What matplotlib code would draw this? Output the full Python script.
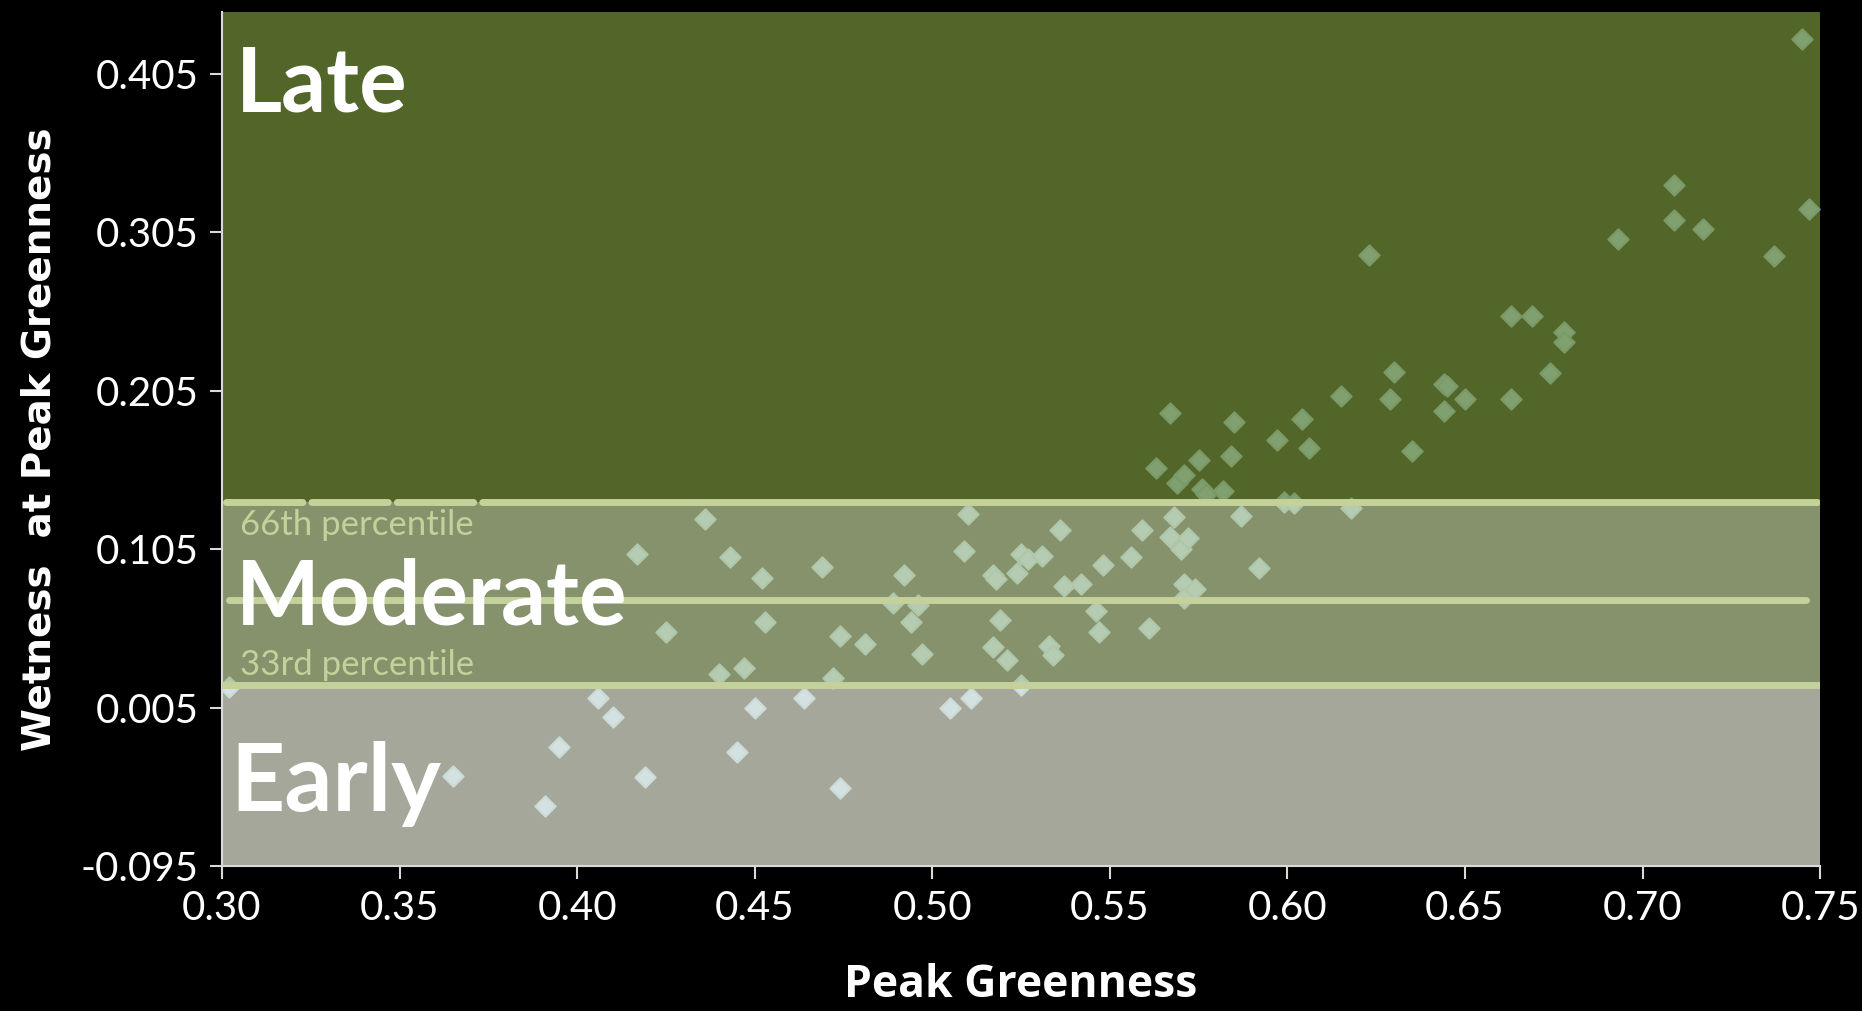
import matplotlib.pyplot as plt
from matplotlib.path import Path
import numpy as np

# peak greenness (x) and wetness at peak greenness (y)
greenness = [0.302, 0.365, 0.391, 0.395, 0.406, 0.410, 0.417, 0.419, 0.425, 0.436,
             0.440, 0.443, 0.445, 0.447, 0.450, 0.452, 0.453, 0.464, 0.469, 0.472,
             0.474, 0.474, 0.481, 0.489, 0.492, 0.494, 0.496, 0.497, 0.505, 0.509,
             0.510, 0.511, 0.517, 0.518, 0.519, 0.517, 0.521, 0.524, 0.525, 0.525,
             0.527, 0.531, 0.533, 0.534, 0.536, 0.537, 0.542, 0.546, 0.547, 0.548,
             0.556, 0.559, 0.561, 0.563, 0.567, 0.568, 0.567, 0.569, 0.570, 0.571,
             0.571, 0.572, 0.571, 0.574, 0.575, 0.576, 0.577, 0.582, 0.584, 0.585,
             0.587, 0.592, 0.597, 0.599, 0.602, 0.604, 0.606, 0.615, 0.618, 0.623,
             0.629, 0.630, 0.635, 0.644, 0.644, 0.645, 0.650, 0.663, 0.663, 0.669,
             0.674, 0.678, 0.678, 0.693, 0.709, 0.709, 0.717, 0.737, 0.745, 0.747]
wetness = [0.018, -0.038, -0.057, -0.020, 0.011, -0.001, 0.102, -0.039, 0.053, 0.124,
           0.026, 0.100, -0.023, 0.030, 0.005, 0.087, 0.059, 0.011, 0.094, 0.024,
           -0.046, 0.050, 0.045, 0.071, 0.089, 0.059, 0.070, 0.039, 0.005, 0.104,
           0.127, 0.011, 0.089, 0.086, 0.060, 0.043, 0.035, 0.090, 0.102, 0.019,
           0.099, 0.101, 0.044, 0.038, 0.117, 0.082, 0.083, 0.066, 0.053, 0.095,
           0.100, 0.117, 0.055, 0.156, 0.191, 0.125, 0.113, 0.147, 0.105, 0.152,
           0.083, 0.112, 0.074, 0.080, 0.161, 0.143, 0.140, 0.142, 0.164, 0.185,
           0.126, 0.093, 0.174, 0.135, 0.134, 0.187, 0.169, 0.202, 0.131, 0.291,
           0.200, 0.217, 0.167, 0.209, 0.192, 0.208, 0.200, 0.252, 0.200, 0.252,
           0.216, 0.242, 0.236, 0.301, 0.335, 0.313, 0.307, 0.290, 0.427, 0.320]

p33 = 0.0195
p50 = 0.073
p66 = 0.1345

x_ticks = [0.30, 0.35, 0.40, 0.45, 0.50, 0.55, 0.60, 0.65, 0.70, 0.75]
y_ticks = [-0.095, 0.005, 0.105, 0.205, 0.305, 0.405]
y_top = 0.444

diamond = Path([(0, 1), (1, 0), (0, -1), (-1, 0), (0, 1)],
               [Path.MOVETO, Path.LINETO, Path.LINETO, Path.LINETO, Path.CLOSEPOLY])

fig = plt.figure(figsize=(18.62, 10.11), dpi=100, facecolor='black')
ax = fig.add_axes([0.1192, 0.1434, 0.8583, 0.8446])
ax.set_facecolor('black')

# points sit under the semi-transparent bands
ax.plot(greenness, wetness, ls='none', marker=diamond, ms=14.5, color=(0.66, 0.81, 1.0),
        mec=(0.56, 0.72, 0.88), mew=1.6, zorder=1)

band_alpha = 0.72
ax.axhspan(p66, y_top, color=(114/255, 142/255, 57/255), alpha=band_alpha, lw=0, zorder=2)
ax.axhspan(p33, p66, color=(187/255, 204/255, 149/255), alpha=band_alpha, lw=0, zorder=2)
ax.axhspan(-0.095, p33, color=(228/255, 233/255, 214/255), alpha=band_alpha, lw=0, zorder=2)

line_col = '#c5d19a'
ax.plot([0.301, 0.383], [p66, p66], color=line_col, lw=5, ls=(0, (11, 1.3)),
        dash_capstyle='round', zorder=3)
ax.plot([0.383, 0.749], [p66, p66], color=line_col, lw=5, solid_capstyle='round', zorder=3)
ax.plot([0.302, 0.746], [p50, p50], color=line_col, lw=5, solid_capstyle='round', zorder=3)
ax.plot([0.300, 0.750], [p33, p33], color=line_col, lw=5, zorder=3)

lbl_font = 'Lato'
ax.text(0.305, p66 - 0.004, '66th percentile', color='#c5d19a', fontsize=25,
        family=lbl_font, va='top', ha='left', zorder=4)
ax.text(0.305, p33 + 0.002, '33rd percentile', color='#c5d19a', fontsize=25,
        family=lbl_font, va='bottom', ha='left', zorder=4)

band_kw = dict(color='white', fontweight='bold', family=lbl_font, zorder=5)
ax.text(0.304, 0.398, 'Late', va='center', ha='left', fontsize=64, **band_kw)
ax.text(0.304, 0.074, 'Moderate', va='center', ha='left', fontsize=64, **band_kw)
ax.text(0.3025, -0.043, 'Early', va='center', ha='left', fontsize=68, **band_kw)

ax.set_xlim(0.30, 0.75)
ax.set_ylim(-0.095, y_top)
ax.set_xticks(x_ticks)
ax.set_xticklabels(['%.2f' % v for v in x_ticks])
ax.set_yticks(y_ticks)
ax.set_yticklabels(['%.3f' % v for v in y_ticks])

for side in ['top', 'right']:
    ax.spines[side].set_visible(False)
for side in ['left', 'bottom']:
    ax.spines[side].set_color('#d9d9d9')
    ax.spines[side].set_linewidth(1.5)
ax.tick_params(colors='#d9d9d9', width=1.5, length=9, direction='out',
               labelcolor='white', labelsize=29, pad=8)
for lab in ax.get_xticklabels() + ax.get_yticklabels():
    lab.set_family(lbl_font)

ax.set_xlabel('Peak Greenness', color='white', fontsize=32, fontweight='bold',
              family='Open Sans', labelpad=26)
ax.set_ylabel('Wetness  at Peak Greenness', color='white', fontsize=28,
              fontweight='bold', family='DejaVu Sans', labelpad=16)

fig.savefig('out.png', dpi=100, facecolor='black')
